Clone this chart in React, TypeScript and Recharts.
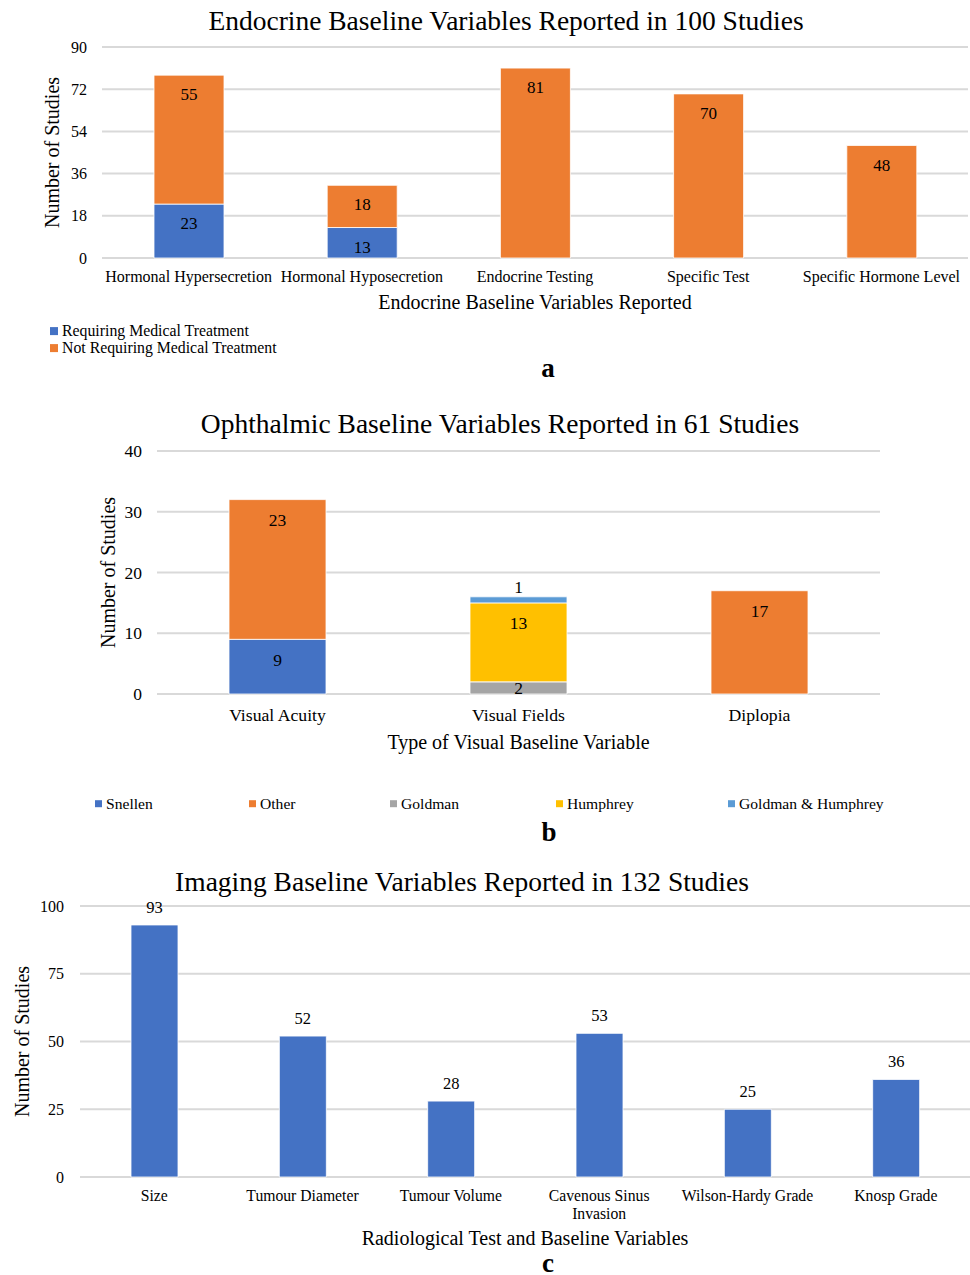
import { BarChart, Bar, XAxis, YAxis, CartesianGrid, LabelList, Text } from 'recharts'

const FONT = '"Liberation Serif", "Times New Roman", serif'
const BLUE = '#4472C4'
const ORANGE = '#ED7D31'
const GRAY = '#A5A5A5'
const YELLOW = '#FFC000'
const LIGHT_BLUE = '#5B9BD5'
const GRID = '#D9D9D9'

// a - endocrine
const endoCategories = [
    'Hormonal Hypersecretion',
    'Hormonal Hyposecretion',
    'Endocrine Testing',
    'Specific Test',
    'Specific Hormone Level',
]
const endoRequiring = [23, 13, 0, 0, 0]
const endoNotRequiring = [55, 18, 81, 70, 48]
const endoTicks = [0, 18, 36, 54, 72, 90]

// b - ophthalmic
const eyeCategories = ['Visual Acuity', 'Visual Fields', 'Diplopia']
const eyeSnellen = [9, 0, 0]
const eyeOther = [23, 0, 17]
const eyeGoldman = [0, 2, 0]
const eyeHumphrey = [0, 13, 0]
const eyeBoth = [0, 1, 0]
const eyeTicks = [0, 10, 20, 30, 40]

// c - imaging
const imgCategories = [
    'Size',
    'Tumour Diameter',
    'Tumour Volume',
    'Cavenous Sinus Invasion',
    'Wilson-Hardy Grade',
    'Knosp Grade',
]
const imgValues = [93, 52, 28, 53, 25, 36]
const imgTicks = [0, 25, 50, 75, 100]

const endoSeries = [
    { key: 'req', name: 'Requiring Medical Treatment', color: BLUE, values: endoRequiring },
    { key: 'notReq', name: 'Not Requiring Medical Treatment', color: ORANGE, values: endoNotRequiring },
]
const eyeSeries = [
    { key: 'snellen', name: 'Snellen', color: BLUE, values: eyeSnellen, pos: 'insideTop' },
    { key: 'other', name: 'Other', color: ORANGE, values: eyeOther, pos: 'insideTop' },
    { key: 'goldman', name: 'Goldman', color: GRAY, values: eyeGoldman, pos: 'center' },
    { key: 'humphrey', name: 'Humphrey', color: YELLOW, values: eyeHumphrey, pos: 'insideTop' },
    { key: 'both', name: 'Goldman & Humphrey', color: LIGHT_BLUE, values: eyeBoth, pos: 'top' },
]

const buildRows = (cats: string[], series: { key: string; values: number[] }[]) =>
    cats.map((name, i) => {
        const row: Record<string, any> = { name }
        series.forEach((s) => (row[s.key] = s.values[i]))
        return row
    })

const endoData = buildRows(endoCategories, endoSeries)
const eyeData = buildRows(eyeCategories, eyeSeries)
const imgData = imgCategories.map((name, i) => ({ name, value: imgValues[i] }))

const hideZero = (v: any) => (v ? v : '')

const yTitle = (text: string, x: number, size: number) => (props: any) => {
    const vb = props.viewBox || { y: 0, height: 0 }
    const cy = vb.y + vb.height / 2
    return (
        <text
            x={x}
            y={cy}
            transform={`rotate(-90 ${x} ${cy})`}
            textAnchor="middle"
            dominantBaseline="central"
            fontSize={size}
            fontFamily={FONT}
            fill="#000"
        >
            {text}
        </text>
    )
}

const xTitle = (text: string, y: number, size: number) => (props: any) => {
    const vb = props.viewBox || { x: 0, width: 0 }
    const cx = vb.x + vb.width / 2
    return (
        <text x={cx} y={y} textAnchor="middle" dominantBaseline="central" fontSize={size} fontFamily={FONT} fill="#000">
            {text}
        </text>
    )
}

const XTick = ({ x, y, payload, fs, maxW, lh }: any) => (
    <Text
        x={x}
        y={y}
        width={maxW}
        textAnchor="middle"
        verticalAnchor="start"
        fontSize={fs}
        fontFamily={FONT}
        fill="#000"
        lineHeight={lh}
        style={{ fontSize: fs, fontFamily: FONT }}
    >
        {payload.value}
    </Text>
)

const YTick = ({ x, y, payload, fs }: any) => (
    <text x={x} y={y} textAnchor="end" dominantBaseline="central" fontSize={fs} fontFamily={FONT} fill="#000">
        {payload.value}
    </text>
)

const Centered = ({ cx, cy, size, bold, children }: any) => (
    <div
        style={{
            position: 'absolute',
            left: cx,
            top: cy,
            transform: 'translate(-50%, -50%)',
            fontSize: size,
            fontWeight: bold ? 'bold' : 'normal',
            lineHeight: 1,
            whiteSpace: 'nowrap',
        }}
    >
        {children}
    </div>
)

const LegendItem = ({ x, y, color, label, size, box }: any) => (
    <div
        style={{
            position: 'absolute',
            left: x,
            top: y,
            transform: 'translateY(-50%)',
            display: 'flex',
            alignItems: 'center',
            fontSize: size,
            lineHeight: 1,
            whiteSpace: 'nowrap',
        }}
    >
        <span style={{ width: box, height: box, background: color, marginRight: 4, display: 'inline-block' }} />
        {label}
    </div>
)

const labelProps = (size: number) => ({ fontSize: size, fontFamily: FONT, fill: '#000' })

export default function App() {
    return (
        <div
            style={{
                position: 'absolute',
                left: 0,
                top: 0,
                width: 970,
                height: 1275,
                background: '#fff',
                fontFamily: FONT,
                color: '#000',
            }}
        >
            {/* a */}
            <Centered cx={506} cy={21} size={27.5}>
                Endocrine Baseline Variables Reported in 100 Studies
            </Centered>
            <div style={{ position: 'absolute', left: 0, top: 0 }}>
                <BarChart
                    width={970}
                    height={330}
                    data={endoData}
                    margin={{ top: 47, right: 2, left: 0, bottom: 30 }}
                    style={{ fontFamily: FONT }}
                >
                    <CartesianGrid vertical={false} stroke={GRID} strokeWidth={2} />
                    <XAxis
                        dataKey="name"
                        interval={0}
                        axisLine={false}
                        tickLine={false}
                        tickSize={0}
                        tickMargin={13}
                        height={42}
                        tick={<XTick fs={16} maxW={400} lh="1em" />}
                        label={xTitle('Endocrine Baseline Variables Reported', 302, 20)}
                    />
                    <YAxis
                        width={102}
                        domain={[0, 90]}
                        ticks={endoTicks}
                        axisLine={false}
                        tickLine={false}
                        tickSize={0}
                        tickMargin={15}
                        tick={<YTick fs={16} />}
                        label={yTitle('Number of Studies', 52, 20)}
                    />
                    {endoSeries.map((s) => (
                        <Bar key={s.key} dataKey={s.key} stackId="a" fill={s.color} barSize={70} stroke="#fff" strokeWidth={0.8} isAnimationActive={false}>
                            <LabelList dataKey={s.key} position="insideTop" offset={13} formatter={hideZero} {...labelProps(17)} />
                        </Bar>
                    ))}
                </BarChart>
            </div>
            {endoSeries.map((s, i) => (
                <LegendItem key={s.key} x={50} y={331 + i * 17} color={s.color} label={s.name} size={15.8} box={8} />
            ))}
            <Centered cx={548} cy={368} size={27} bold>
                a
            </Centered>

            {/* b */}
            <Centered cx={500} cy={424} size={27.5}>
                Ophthalmic Baseline Variables Reported in 61 Studies
            </Centered>
            <div style={{ position: 'absolute', left: 0, top: 400 }}>
                <BarChart
                    width={970}
                    height={370}
                    data={eyeData}
                    margin={{ top: 51, right: 90, left: 0, bottom: 30 }}
                    style={{ fontFamily: FONT }}
                >
                    <CartesianGrid vertical={false} stroke={GRID} strokeWidth={2} />
                    <XAxis
                        dataKey="name"
                        interval={0}
                        axisLine={false}
                        tickLine={false}
                        tickSize={0}
                        tickMargin={14}
                        height={46}
                        tick={<XTick fs={17.7} maxW={400} lh="1em" />}
                        label={xTitle('Type of Visual Baseline Variable', 342, 20)}
                    />
                    <YAxis
                        width={157}
                        domain={[0, 40]}
                        ticks={eyeTicks}
                        axisLine={false}
                        tickLine={false}
                        tickSize={0}
                        tickMargin={15}
                        tick={<YTick fs={17.5} />}
                        label={yTitle('Number of Studies', 108, 20)}
                    />
                    {eyeSeries.map((s) => (
                        <Bar key={s.key} dataKey={s.key} stackId="b" fill={s.color} barSize={97} stroke="#fff" strokeWidth={0.8} isAnimationActive={false}>
                            <LabelList
                                dataKey={s.key}
                                position={s.pos as any}
                                offset={s.pos === 'top' ? 4 : 14}
                                formatter={hideZero}
                                {...labelProps(17.5)}
                            />
                        </Bar>
                    ))}
                </BarChart>
            </div>
            {eyeSeries.map((s, i) => (
                <LegendItem key={s.key} x={[95, 249, 390, 556, 728][i]} y={804} color={s.color} label={s.name} size={15.6} box={7} />
            ))}
            <Centered cx={549} cy={832} size={27} bold>
                b
            </Centered>

            {/* c */}
            <Centered cx={462} cy={882} size={27.5}>
                Imaging Baseline Variables Reported in 132 Studies
            </Centered>
            <div style={{ position: 'absolute', left: 0, top: 860 }}>
                <BarChart
                    width={970}
                    height={400}
                    data={imgData}
                    margin={{ top: 46, right: 0, left: 0, bottom: 0 }}
                    style={{ fontFamily: FONT }}
                >
                    <CartesianGrid vertical={false} stroke={GRID} strokeWidth={2} />
                    <XAxis
                        dataKey="name"
                        interval={0}
                        axisLine={false}
                        tickLine={false}
                        tickSize={0}
                        tickMargin={13}
                        height={83}
                        tick={<XTick fs={15.7} maxW={140} lh={18} />}
                        label={xTitle('Radiological Test and Baseline Variables', 378, 20)}
                    />
                    <YAxis
                        width={80}
                        domain={[0, 100]}
                        ticks={imgTicks}
                        axisLine={false}
                        tickLine={false}
                        tickSize={0}
                        tickMargin={16}
                        tick={<YTick fs={16} />}
                        label={yTitle('Number of Studies', 22, 20)}
                    />
                    <Bar dataKey="value" fill={BLUE} barSize={47} stroke="#fff" strokeWidth={0.8} isAnimationActive={false}>
                        <LabelList dataKey="value" position="top" offset={12} {...labelProps(16.5)} />
                    </Bar>
                </BarChart>
            </div>
            <Centered cx={548} cy={1263} size={27} bold>
                c
            </Centered>
        </div>
    )
}
